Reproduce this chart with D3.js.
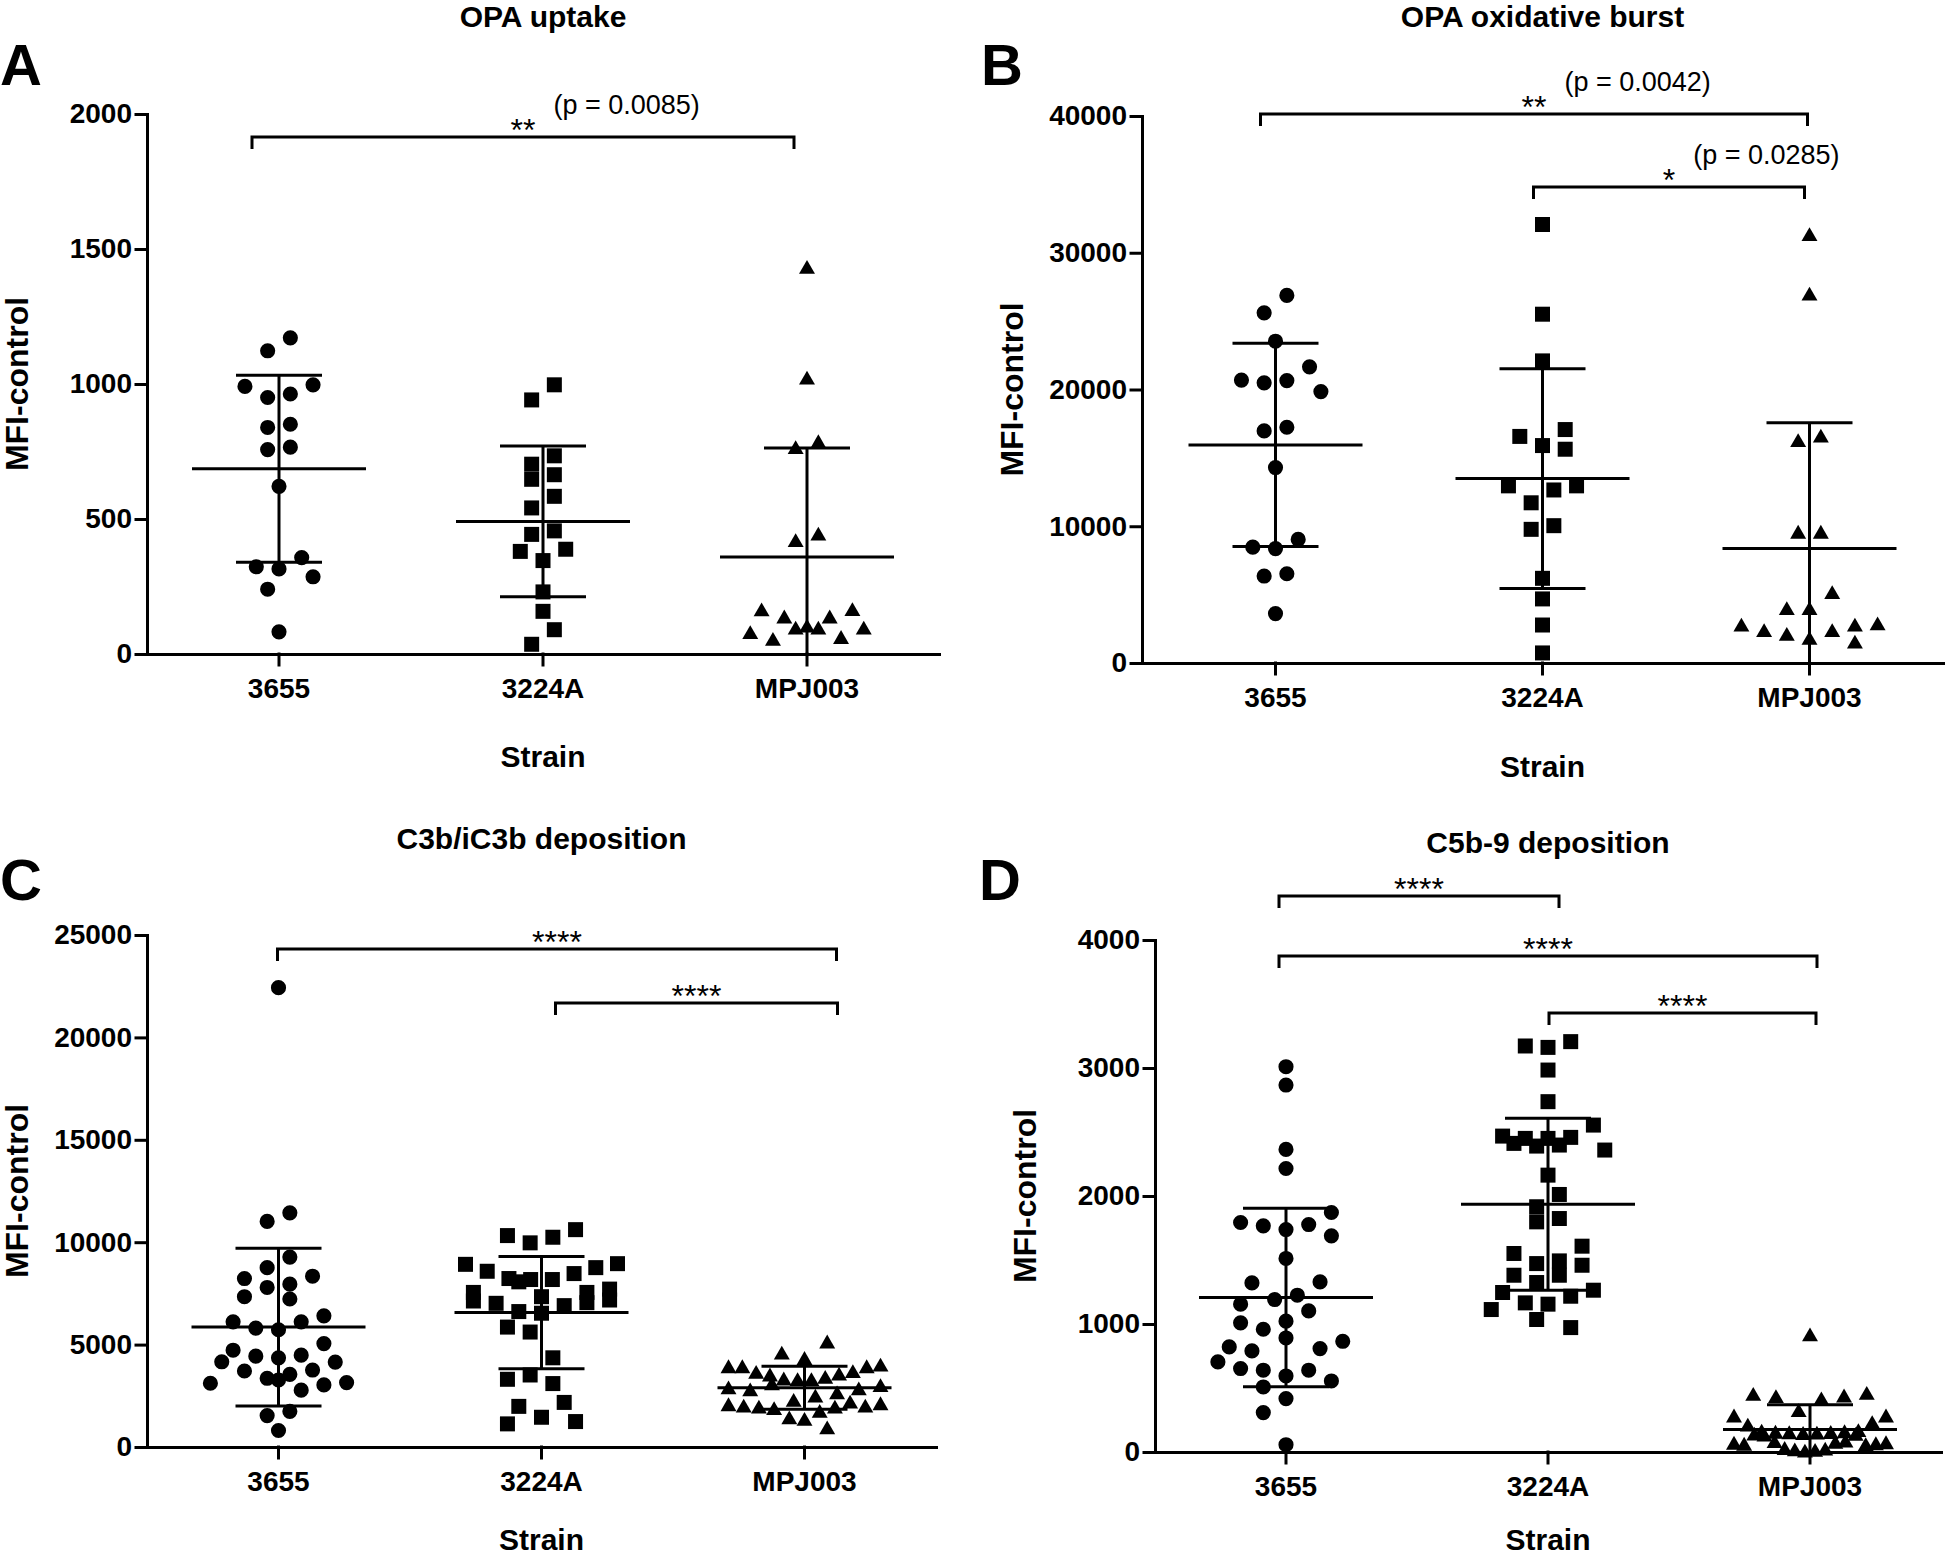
<!DOCTYPE html>
<html>
<head>
<meta charset="utf-8">
<script src="https://cdn.jsdelivr.net/npm/d3@7"></script>
<style>
  body { margin: 0; background: #fff; }
  text { font-family: "Liberation Sans", Arial, sans-serif; fill: #000; }
</style>
</head>
<body>
<svg id="fig" width="1946" height="1558"></svg>
<script>
'use strict';

const strains = ['3655', '3224A', 'MPJ003'];

// A - OPA uptake
const uptake3655 = [1171, 1123, 997, 991, 963, 950, 851, 839, 766, 757, 621, 357, 323, 315, 286, 240, 82];
const uptake3224A = [997, 941, 734, 703, 664, 647, 584, 541, 456, 443, 388, 380, 346, 230, 158, 90, 36];
const uptakeMPJ003 = [1431, 1021, 785, 763, 443, 419, 163, 162, 136, 136, 102, 95, 95, 95, 78, 60, 53];
const uptakeMean = [686, 491, 359];
const uptakeSD = [346, 279, 404];
const uptakeTicks = [0, 500, 1000, 1500, 2000];
const uptakeBrackets = [
  { from: 0, to: 2, level: 1915, stars: '**', p: '(p = 0.0085)' }
];

// B - OPA oxidative burst
const burst3655 = [26879, 25607, 23531, 21657, 20686, 20653, 20485, 19849, 17239, 16971, 14293, 9038, 8469, 8368, 6527, 6360, 3615];
const burst3224A = [32067, 25506, 22092, 17071, 16569, 15900, 15632, 12954, 12954, 12653, 11715, 10042, 9774, 6192, 4686, 2778, 736];
const burstMPJ003 = [31297, 26946, 16569, 16234, 9540, 9540, 5121, 3950, 3950, 2845, 2745, 2745, 2343, 2343, 2075, 1774, 1506];
const burstMean = [15950, 13490, 8368];
const burstSD = [7430, 8033, 9205];
const burstTicks = [0, 10000, 20000, 30000, 40000];
const burstBrackets = [
  { from: 0, to: 2, level: 40150, stars: '**', p: '(p = 0.0042)' },
  { from: 1, to: 2, level: 34800, stars: '*', p: '(p = 0.0285)' }
];

// C - C3b/iC3b deposition
const c3b3655 = [22427, 11435, 11016, 9274, 8758, 8339, 8226, 7952, 7790, 7339, 7226, 6403, 6113, 6113, 5806, 5726,
  5048, 4726, 4484, 4435, 4355, 4161, 4145, 3758, 3710, 3548, 3355, 3274, 3145, 3113, 3032, 2774, 1742, 1532, 806];
const c3b3224A = [10613, 10323, 10242, 9968, 8952, 8919, 8758, 8581, 8468, 8226, 8177, 8177, 8065, 7710, 7548, 7548,
  7339, 7177, 7129, 7048, 7016, 6903, 6613, 6532, 5855, 5613, 4355, 3516, 3306, 3097, 2177, 1984, 1452, 1242, 1129];
const c3bMPJ003 = [5113, 4565, 4306, 3984, 3903, 3903, 3903, 3661, 3629, 3548, 3500, 3387, 3306, 3274, 3274, 3064,
  2984, 2871, 2823, 2774, 2629, 2468, 2258, 2177, 2097, 2048, 1984, 1984, 1935, 1935, 1855, 1726, 1403, 1339, 919];
const c3bMean = [5855, 6564, 2890];
const c3bSD = [3848, 2742, 1050];
const c3bTicks = [0, 5000, 10000, 15000, 20000, 25000];
const c3bBrackets = [
  { from: 0, to: 2, level: 24316, stars: '****', p: '' },
  { from: 1, to: 2, level: 21680, stars: '****', p: '' }
];

// D - C5b-9 deposition
const c5b3655 = [3010, 2867, 2364, 2215, 1871, 1793, 1777, 1767, 1738, 1689, 1512, 1329, 1321, 1225, 1191, 1155, 1102,
  1022, 1009, 959, 891, 865, 821, 808, 790, 704, 652, 639, 639, 594, 555, 508, 417, 308, 57];
const c5b3224A = [3206, 3172, 3161, 2984, 2737, 2554, 2468, 2458, 2450, 2450, 2411, 2398, 2390, 2359, 2163, 2012, 1916,
  1824, 1798, 1608, 1551, 1493, 1472, 1459, 1381, 1381, 1324, 1264, 1246, 1217, 1165, 1155, 1113, 1035, 972];
const c5bMPJ003 = [912, 456, 448, 435, 430, 412, 321, 279, 279, 227, 208, 165, 160, 156, 152, 150, 148, 145, 142, 138,
  135, 130, 82, 78, 74, 70, 66, 62, 58, 55, 25, 20, 15, 10, 5];
const c5bMean = [1207, 1936, 175];
const c5bSD = [697, 672, 195];
const c5bTicks = [0, 1000, 2000, 3000, 4000];
const c5bBrackets = [
  { from: 0, to: 1, level: 4344, stars: '****', p: '' },
  { from: 0, to: 2, level: 3875, stars: '****', p: '' },
  { from: 1, to: 2, level: 3430, stars: '****', p: '' }
];

// layout of the four panels (pixels)
const panels = [
  { letter: 'A', title: 'OPA uptake', groups: [uptake3655, uptake3224A, uptakeMPJ003],
    mean: uptakeMean, sd: uptakeSD, ticks: uptakeTicks, brackets: uptakeBrackets,
    x0: 147, x1: 939, y0: 654, y1: 114, letterX: 0, letterY: 85, titleY: 27, strainY: 767,
    nudge: [[-27, -13]] },
  { letter: 'B', title: 'OPA oxidative burst', groups: [burst3655, burst3224A, burstMPJ003],
    mean: burstMean, sd: burstSD, ticks: burstTicks, brackets: burstBrackets,
    x0: 1142, x1: 1943, y0: 663, y1: 116, letterX: 981, letterY: 85, titleY: 27, strainY: 777,
    nudge: [[-15, -2], [-9, -5]] },
  { letter: 'C', title: 'C3b/iC3b deposition', groups: [c3b3655, c3b3224A, c3bMPJ003],
    mean: c3bMean, sd: c3bSD, ticks: c3bTicks, brackets: c3bBrackets,
    x0: 147, x1: 936, y0: 1447, y1: 935, letterX: 0, letterY: 900, titleY: 849, strainY: 1550,
    nudge: [[-1, 32], [14, 33]] },
  { letter: 'D', title: 'C5b-9 deposition', groups: [c5b3655, c5b3224A, c5bMPJ003],
    mean: c5bMean, sd: c5bSD, ticks: c5bTicks, brackets: c5bBrackets,
    x0: 1155, x1: 1941, y0: 1452, y1: 940, letterX: 979, letterY: 900, titleY: 853, strainY: 1550,
    nudge: [[-7, 11], [-7, 7], [1, 6]] }
];

const symbols = [d3.symbolCircle, d3.symbolSquare, d3.symbolTriangle];
const symbolSizes = [180, 225, 110];

const svg = d3.select('#fig');
svg.append('rect').attr('width', 1946).attr('height', 1558).attr('fill', '#fff');

// GraphPad-like scatter: rows of nearby values spread sideways, lowest in the middle
function swarm(values, y) {
  const h = 11.35, maxSpread = 152, rowH = 18, D = 14;
  const pts = values.map(v => ({ v: v, y: y(v), dx: 0 })).sort((a, b) => a.y - b.y);
  const rows = [];
  pts.forEach(p => {
    const row = rows[rows.length - 1];
    if (row && p.y - row[0].y < rowH) row.push(p);
    else rows.push([p]);
  });
  const placed = [];
  rows.forEach(row => {
    const n = row.length;
    const step = n > 1 ? Math.min(2 * h, maxSpread / (n - 1)) : 2 * h;
    const slots = [];
    for (let k = 0; k < 30; k++) {
      const m = Math.floor(k / 2);
      const base = (n % 2) ? (k === 0 ? 0 : Math.ceil(k / 2)) : m + 0.5;
      const sign = (n % 2) ? (k % 2 ? -1 : 1) : (k % 2 ? 1 : -1);
      slots.push(sign * base * step);
    }
    const uniq = [...new Set(slots.map(s => +s.toFixed(3)))];
    const used = new Set();
    const order = row.slice().sort((a, b) => b.y - a.y);
    order.forEach(p => {
      let pick = null;
      for (const s of uniq) {
        if (used.has(s)) continue;
        if (Math.abs(s) > maxSpread / 2 + 1) break;
        const hit = placed.some(q => Math.abs(q.dx - s) < D && Math.abs(q.y - p.y) < D);
        if (!hit) { pick = s; break; }
      }
      if (pick === null) pick = uniq.find(s => !used.has(s));
      used.add(pick);
      p.dx = pick;
    });
    row.forEach(p => placed.push(p));
  });
  return pts;
}

function drawPanel(p) {
  const g = svg.append('g');
  const x = d3.scaleBand().domain(strains).range([p.x0, p.x1]);
  const cx = s => x(s) + x.bandwidth() / 2;
  const y = d3.scaleLinear().domain([0, d3.max(p.ticks)]).range([p.y0, p.y1]);

  // points
  p.groups.forEach((vals, i) => {
    const sym = d3.symbol().type(symbols[i]).size(symbolSizes[i]);
    g.append('g').selectAll('path')
      .data(swarm(vals, y))
      .enter().append('path')
      .attr('d', sym)
      .attr('transform', d => `translate(${cx(strains[i]) + d.dx},${d.y + (i === 2 ? 1.5 : 0)})`)
      .attr('fill', '#000');
  });

  // mean and SD
  const bars = g.append('g').attr('stroke', '#000').attr('stroke-width', 3).attr('fill', 'none');
  strains.forEach((s, i) => {
    const c = cx(s), m = p.mean[i], sd = p.sd[i];
    const lo = Math.max(0, m - sd);
    bars.append('line').attr('x1', c - 87).attr('x2', c + 87).attr('y1', y(m)).attr('y2', y(m));
    bars.append('line').attr('x1', c).attr('x2', c).attr('y1', y(m + sd)).attr('y2', y(lo));
    bars.append('line').attr('x1', c - 43).attr('x2', c + 43).attr('y1', y(m + sd)).attr('y2', y(m + sd));
    if (m - sd > 0) {
      bars.append('line').attr('x1', c - 43).attr('x2', c + 43).attr('y1', y(lo)).attr('y2', y(lo));
    }
  });

  // axes
  const yAxis = g.append('g').attr('transform', `translate(${p.x0},0)`)
    .call(d3.axisLeft(y).tickValues(p.ticks).tickFormat(d3.format('d')).tickSize(11).tickSizeOuter(0).tickPadding(4));
  const xAxis = g.append('g').attr('transform', `translate(0,${p.y0})`)
    .call(d3.axisBottom(x).tickSize(11).tickSizeOuter(0).tickPadding(13));
  [yAxis, xAxis].forEach(a => {
    a.selectAll('path, line').attr('stroke', '#000').attr('stroke-width', 3).attr('stroke-linecap', 'square');
    a.selectAll('text').attr('font-size', 28).attr('font-weight', 'bold')
      .attr('font-family', '"Liberation Sans", Arial, sans-serif').attr('fill', '#000');
  });

  // brackets
  p.brackets.forEach((b, i) => {
    const xl = cx(strains[b.from]) + p.nudge[i][0];
    const xr = cx(strains[b.to]) + p.nudge[i][1];
    const by = y(b.level);
    g.append('path')
      .attr('d', `M${xl},${by + 12}V${by}H${xr}V${by + 12}`)
      .attr('fill', 'none').attr('stroke', '#000').attr('stroke-width', 3);
    const star = g.append('text').attr('x', (xl + xr) / 2).attr('y', by + 4)
      .attr('text-anchor', 'middle').attr('font-size', 32).text(b.stars);
    if (b.p) {
      const w = star.node().getComputedTextLength();
      g.append('text').attr('x', (xl + xr) / 2 + w / 2 + 18).attr('y', by - 23)
        .attr('font-size', 27).text(b.p);
    }
  });

  // labels
  g.append('text').attr('x', p.letterX).attr('y', p.letterY)
    .attr('font-size', 58).attr('font-weight', 'bold').text(p.letter);
  g.append('text').attr('x', cx(strains[1])).attr('y', p.titleY)
    .attr('text-anchor', 'middle').attr('font-size', 30).attr('font-weight', 'bold').text(p.title);
  g.append('text').attr('x', cx(strains[1])).attr('y', p.strainY)
    .attr('text-anchor', 'middle').attr('font-size', 30).attr('font-weight', 'bold').text('Strain');
  g.append('text')
    .attr('transform', `translate(${p.x0 - 119},${(p.y0 + p.y1) / 2}) rotate(-90)`)
    .attr('text-anchor', 'middle')
    .attr('font-size', 32).attr('font-weight', 'bold').text('MFI-control');
}

panels.forEach(drawPanel);
</script>
</body>
</html>
